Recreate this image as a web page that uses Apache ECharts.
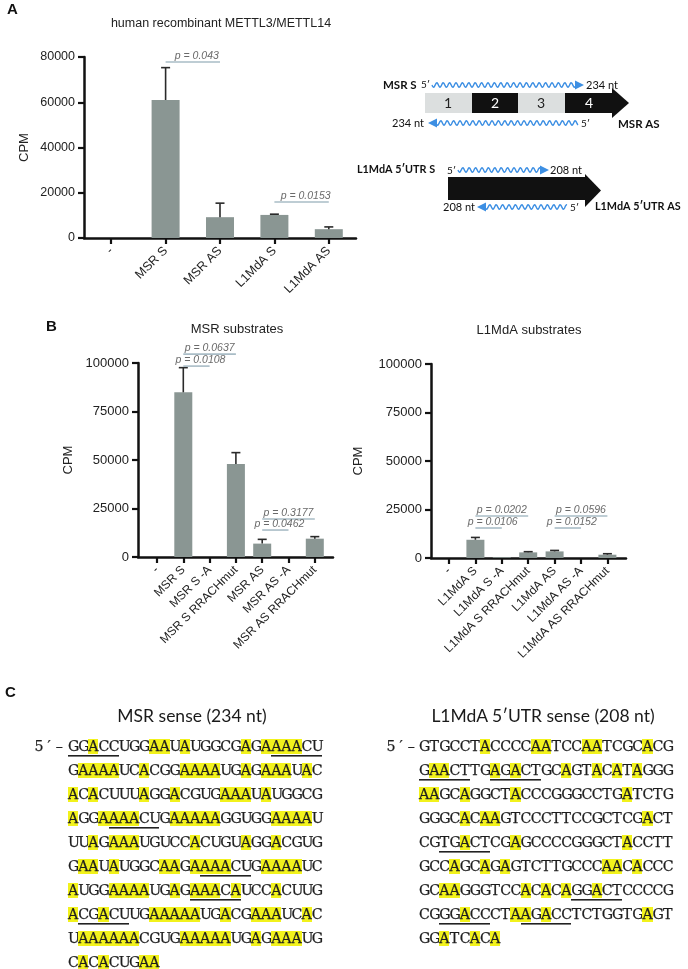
<!DOCTYPE html>
<html><head><meta charset="utf-8">
<script src="https://cdn.jsdelivr.net/npm/echarts@6/dist/echarts.min.js"></script>
<style>
html,body{margin:0;padding:0;background:#fff;overflow:hidden;}
#c{position:absolute;left:0;top:0;width:688px;height:969px;}
.lbl{position:absolute;font-family:"Liberation Sans",Arial,sans-serif;font-weight:bold;font-size:15px;color:#111;}
.ttl{position:absolute;font-family:Lato,"Open Sans",sans-serif;font-size:17.5px;color:#1a1a1a;transform:translate(-50%,-50%);white-space:nowrap;}
.sq{position:absolute;white-space:nowrap;height:22px;font-size:0;}
.sq span{display:inline-block;width:10.16px;height:22px;line-height:22px;text-align:center;
  font-family:"DejaVu Serif",serif;font-size:14.2px;color:#1e1e1e;vertical-align:top;background-repeat:no-repeat;
  -webkit-text-stroke:0.25px #1e1e1e;}
.sq span.h{background-image:linear-gradient(#f2f21c,#f2f21c);background-size:100% 15px;background-position:0 3.5px;}
.sq span.u{background-image:linear-gradient(#222,#222);background-size:100% 1.6px;background-position:0 19.5px;}
.sq span.h.u{background-image:linear-gradient(#222,#222),linear-gradient(#f2f21c,#f2f21c);
  background-size:100% 1.6px,100% 15px;background-position:0 19.5px,0 3.5px;}
</style>
</head><body>
<div id="c"></div>
<div id="seqs"></div>
<script>
// ---------- DATA ----------
const catsA = ['-', 'MSR S', 'MSR AS', 'L1MdA S', 'L1MdA AS'];
const valsA = [0, 61000, 9200, 10200, 3900];
const errA  = [0, 14300, 6200, 330, 1000];
const pA    = [[1, 2, 77800], [3, 4, 15900]];
const pAtxt = ['p = 0.043', 'p = 0.0153'];

const catsBL = ['-', 'MSR S', 'MSR S -A', 'MSR S RRACHmut', 'MSR AS', 'MSR AS -A', 'MSR AS RRACHmut'];
const valsBL = [0, 84900, 0, 47900, 6900, 0, 9450];
const errBL  = [0, 12700, 0, 5900, 2200, 0, 1050];
const pBL    = [[1, 3, 104600], [1, 2, 98400], [4, 6, 19600], [4, 5, 13900]];
const pBLtxt = ['p = 0.0637', 'p = 0.0108', 'p = 0.3177', 'p = 0.0462'];

const catsBR = ['-', 'L1MdA S', 'L1MdA S -A', 'L1MdA S RRACHmut', 'L1MdA AS', 'L1MdA AS -A', 'L1MdA AS RRACHmut'];
const valsBR = [0, 9400, 400, 2900, 3400, 0, 1700];
const errBR  = [0, 1200, 0, 350, 500, 0, 500];
const pBR    = [[1, 3, 21650], [1, 2, 15460], [4, 6, 21650], [4, 5, 15460]];
const pBRtxt = ['p = 0.0202', 'p = 0.0106', 'p = 0.0596', 'p = 0.0152'];

const ticksA = [0, 20000, 40000, 60000, 80000];
const ticksB = [0, 25000, 50000, 75000, 100000];

const seqMSR = [
 'GGACCUGGAAUAUGGCGAGAAAACU',
 'GAAAAUCACGGAAAAUGAGAAAUAC',
 'ACACUUUAGGACGUGAAAUAUGGCG',
 'AGGAAAACUGAAAAAGGUGGAAAAU',
 'UUAGAAAUGUCCACUGUAGGACGUG',
 'GAAUAUGGCAAGAAAACUGAAAAUC',
 'AUGGAAAAUGAGAAACAUCCACUUG',
 'ACGACUUGAAAAAUGACGAAAUCAC',
 'UAAAAAACGUGAAAAAUGAGAAAUG',
 'CACACUGAA'];
const underMSR = [[0,0,4],[0,20,24],[3,4,8],[5,13,17],[6,12,16],[7,1,5]];
const seqL1 = [
 'GTGCCTACCCCAATCCAATCGCACG',
 'GAACTTGAGACTGCAGTACATAGGG',
 'AAGCAGGCTACCCGGGCCTGATCTG',
 'GGGCACAAGTCCCTTCCGCTCGACT',
 'CGTGACTCGAGCCCCGGGCTACCTT',
 'GCCAGCAGAGTCTTGCCCAACACCC',
 'GCAAGGGTCCACACAGGACTCCCCG',
 'CGGGACCCTAAGACCTCTGGTGAGT',
 'GGATCACA'];
const underL1 = [[1,0,4],[1,7,11],[4,2,6],[6,15,19],[7,2,6],[7,10,14]];

// ---------- CHART ----------
const FONT = '"Liberation Sans", Arial, sans-serif';
const BAR = '#8a9693';
const AX = {lineStyle:{color:'#111', width:2.5}};
const chart = echarts.init(document.getElementById('c'), null, {renderer:'canvas'});

function errItem(params, api){
  const v = api.value(1), t = api.value(2);
  if (!(t > v)) return null;
  const b = api.coord([api.value(0), v]);
  const p = api.coord([api.value(0), t]);
  const hw = 4.5;
  return {type:'group', children:[
    {type:'line', shape:{x1:b[0], y1:b[1], x2:p[0], y2:p[1]}, style:{stroke:'#2a2a2a', lineWidth:1.6}},
    {type:'line', shape:{x1:p[0]-hw, y1:p[1], x2:p[0]+hw, y2:p[1]}, style:{stroke:'#2a2a2a', lineWidth:1.6}}
  ]};
}
function pItem(txts){
  return function(params, api){
    const a = api.coord([api.value(0), api.value(2)]);
    const b = api.coord([api.value(1), api.value(2)]);
    const short = (api.value(1) - api.value(0)) === 1;
    return {type:'group', children:[
      {type:'line', shape:{x1:a[0], y1:a[1], x2:b[0], y2:b[1]}, style:{stroke:'#a9bcc6', lineWidth:1.6}},
      {type:'text', style:{text:txts[params.dataIndex], x:(a[0]+b[0])/2 + (short?4:0), y:a[1]-0.5,
        textAlign:'center', textVerticalAlign:'bottom', font:'italic 10.5px ' + FONT, fill:'#6a6a6a'}}
    ]};
  };
}
function catX(idx, cats, fs){
  return {type:'category', gridIndex:idx, data:cats, boundaryGap:true,
    axisLine: idx===0 ? AX : {show:false},
    axisTick:{show:true, alignWithLabel:true, length:6, lineStyle:{color:'#111', width:2.2}},
    axisLabel:{rotate:45, interval:0, fontSize:fs, color:'#222', margin:11, fontFamily:FONT}};
}
function lineX(idx){
  return {type:'value', gridIndex:idx, min:0, max:1, axisLine:AX, axisTick:{show:false}, axisLabel:{show:false}, splitLine:{show:false}};
}
function valY(idx, max, step, ticks, fs, gap){
  return {type:'value', gridIndex:idx, min:0, max:max, interval:step,
    axisLine:{show:true, lineStyle:{color:'#111', width:2.5}},
    axisTick:{show:true, length:6, lineStyle:{color:'#111', width:2.2}},
    axisLabel:{fontSize:fs, color:'#222', margin:9, fontFamily:FONT,
      formatter:(v)=> ticks.indexOf(v) >= 0 ? String(v) : ''},
    splitLine:{show:false},
    name:'CPM', nameLocation:'middle', nameRotate:90, nameGap:gap,
    nameTextStyle:{fontSize:13, color:'#222', fontFamily:FONT}};
}
function hidY(idx, max){
  return {type:'value', gridIndex:idx, min:0, max:max, show:false};
}
function errData(vals, errs){ return vals.map((v,i)=>[i, v, v+errs[i]]); }

// wavy decorative lines for schematic
function wave(x1, x2, y){
  const pts = [];
  for (let x = x1; x <= x2; x += 0.5) pts.push([x, y + 2.2*Math.sin((x-x1)/6.4*2*Math.PI)]);
  return pts;
}
const BLUE = '#3d8fe3';
const DF = 'Lato, "Open Sans", sans-serif';
function txt(t, x, y, font, fill, align){
  return {type:'text', style:{text:t, x:x, y:y, font:font, fill:fill||'#111', textAlign:align||'left', textVerticalAlign:'middle'}};
}
const graphics = [
  txt('A', 7, 10, 'bold 15px ' + FONT),
  txt('human recombinant METTL3/METTL14', 221, 24, '12.5px ' + FONT, '#222', 'center'),
  txt('B', 46, 327, 'bold 15px ' + FONT),
  txt('MSR substrates', 237, 329, '13px ' + FONT, '#222', 'center'),
  txt('L1MdA substrates', 529, 330, '13px ' + FONT, '#222', 'center'),
  // MSR schematic
  txt('MSR S', 383, 85, 'bold 11.5px ' + DF),
  txt('5\u2032', 421, 85, '10px ' + DF),
  {type:'polyline', shape:{points:wave(432, 576, 85)}, style:{stroke:BLUE, lineWidth:1.4, fill:null}},
  {type:'polygon', shape:{points:[[575,80.5],[584,85],[575,89.5]]}, style:{fill:BLUE}},
  txt('234 nt', 586, 85, '11px ' + DF),
  {type:'rect', shape:{x:425, y:93, width:47, height:20}, style:{fill:'#dcdfdf'}},
  {type:'rect', shape:{x:472, y:93, width:46, height:20}, style:{fill:'#111'}},
  {type:'rect', shape:{x:518, y:93, width:47, height:20}, style:{fill:'#dcdfdf'}},
  {type:'rect', shape:{x:565, y:93, width:48, height:20}, style:{fill:'#111'}},
  {type:'polygon', shape:{points:[[612,88],[629,103],[612,118]]}, style:{fill:'#111'}},
  txt('1', 448, 103.5, '14px ' + DF, '#222', 'center'),
  txt('2', 495, 103.5, '14px ' + DF, '#fff', 'center'),
  txt('3', 541, 103.5, '14px ' + DF, '#222', 'center'),
  txt('4', 589, 103.5, '14px ' + DF, '#fff', 'center'),
  txt('234 nt', 392, 123, '11px ' + DF),
  {type:'polygon', shape:{points:[[437,118.5],[428,123],[437,127.5]]}, style:{fill:BLUE}},
  {type:'polyline', shape:{points:wave(436, 578, 123)}, style:{stroke:BLUE, lineWidth:1.4, fill:null}},
  txt('5\u2032', 581, 124, '10px ' + DF),
  txt('MSR AS', 618, 124, 'bold 11.5px ' + DF),
  // L1MdA schematic
  txt('L1MdA 5\u2032UTR S', 357, 170, 'bold 10.8px ' + DF),
  txt('5\u2032', 447, 171, '10px ' + DF),
  {type:'polyline', shape:{points:wave(458, 541, 170)}, style:{stroke:BLUE, lineWidth:1.4, fill:null}},
  {type:'polygon', shape:{points:[[540,165.5],[549,170],[540,174.5]]}, style:{fill:BLUE}},
  txt('208 nt', 550, 170, '11px ' + DF),
  {type:'rect', shape:{x:448, y:177, width:138, height:23}, style:{fill:'#111'}},
  {type:'polygon', shape:{points:[[585,174],[601,190.5],[585,207]]}, style:{fill:'#111'}},
  txt('208 nt', 443, 207, '11px ' + DF),
  {type:'polygon', shape:{points:[[486,202.5],[477,207],[486,211.5]]}, style:{fill:BLUE}},
  {type:'polyline', shape:{points:wave(485, 567, 207)}, style:{stroke:BLUE, lineWidth:1.4, fill:null}},
  txt('5\u2032', 570, 208, '10px ' + DF),
  txt('L1MdA 5\u2032UTR AS', 595, 207, 'bold 10.8px ' + DF)
];

const option = {
  animation:false,
  textStyle:{fontFamily:FONT},
  grid:[
    {left:84, top:57, width:272, height:181},
    {left:138, top:363, width:195, height:194},
    {left:143.85, top:363, width:184.1, height:194},
    {left:431, top:364, width:195, height:194},
    {left:435.8, top:364, width:184.8, height:194}
  ],
  xAxis:[catX(0, catsA, 12.5), lineX(1), catX(2, catsBL, 12), lineX(3), catX(4, catsBR, 12)],
  yAxis:[valY(0, 80000, 20000, ticksA, 12.5, 53), valY(1, 100000, 25000, ticksB, 13, 63), hidY(2, 100000),
         valY(3, 100000, 25000, ticksB, 13, 66), hidY(4, 100000)],
  graphic:graphics,
  series:[
    {type:'bar', xAxisIndex:0, yAxisIndex:0, data:valsA, barWidth:28, itemStyle:{color:BAR}, z:1},
    {type:'custom', xAxisIndex:0, yAxisIndex:0, data:errData(valsA, errA), renderItem:errItem, encode:{x:0, y:[1,2]}, z:3},
    {type:'custom', xAxisIndex:0, yAxisIndex:0, data:pA, renderItem:pItem(pAtxt), encode:{x:[0,1], y:2}, clip:false, z:3},
    {type:'bar', xAxisIndex:2, yAxisIndex:2, data:valsBL, barWidth:18, itemStyle:{color:BAR}, z:1},
    {type:'custom', xAxisIndex:2, yAxisIndex:2, data:errData(valsBL, errBL), renderItem:errItem, encode:{x:0, y:[1,2]}, z:3},
    {type:'custom', xAxisIndex:2, yAxisIndex:2, data:pBL, renderItem:pItem(pBLtxt), encode:{x:[0,1], y:2}, clip:false, z:3},
    {type:'bar', xAxisIndex:4, yAxisIndex:4, data:valsBR, barWidth:18, itemStyle:{color:BAR}, z:1},
    {type:'custom', xAxisIndex:4, yAxisIndex:4, data:errData(valsBR, errBR), renderItem:errItem, encode:{x:0, y:[1,2]}, z:3},
    {type:'custom', xAxisIndex:4, yAxisIndex:4, data:pBR, renderItem:pItem(pBRtxt), encode:{x:[0,1], y:2}, clip:false, z:3}
  ]
};
chart.setOption(option);

// ---------- PANEL C (sequence text) ----------
function lineHTML(s, li, under){
  const u = new Array(s.length).fill(false);
  under.forEach(r => { if (r[0] === li) for (let k = r[1]; k <= r[2]; k++) u[k] = true; });
  return s.split('').map((ch, k) => {
    const cls = [];
    if (ch === 'A') cls.push('h');
    if (u[k]) cls.push('u');
    return '<span' + (cls.length ? ' class="' + cls.join(' ') + '"' : '') + '>' + ch + '</span>';
  }).join('');
}
function prefix(x, y){
  return '<div class="sq" style="left:' + x + 'px;top:' + (y - 11) + 'px"><span>5</span><span>\u2032</span><span>\u2013</span></div>';
}
function buildBlock(seq, under, x0, prefX, y0, step){
  let html = prefix(prefX, y0);
  seq.forEach((s, i) => {
    html += '<div class="sq" style="left:' + x0 + 'px;top:' + (y0 - 11 + i*step) + 'px">' + lineHTML(s, i, under) + '</div>';
  });
  return html;
}
let H = '';
H += '<div class="lbl" style="left:5px;top:683px">C</div>';
H += '<div class="ttl" style="left:192px;top:715px">MSR sense (234 nt)</div>';
H += '<div class="ttl" style="left:543px;top:715px">L1MdA 5\u2032UTR sense (208 nt)</div>';
H += buildBlock(seqMSR, underMSR, 68, 34, 746, 24.0);
H += buildBlock(seqL1, underL1, 419, 386, 746, 24.0);
document.getElementById('seqs').innerHTML = H;
</script>
</body></html>
